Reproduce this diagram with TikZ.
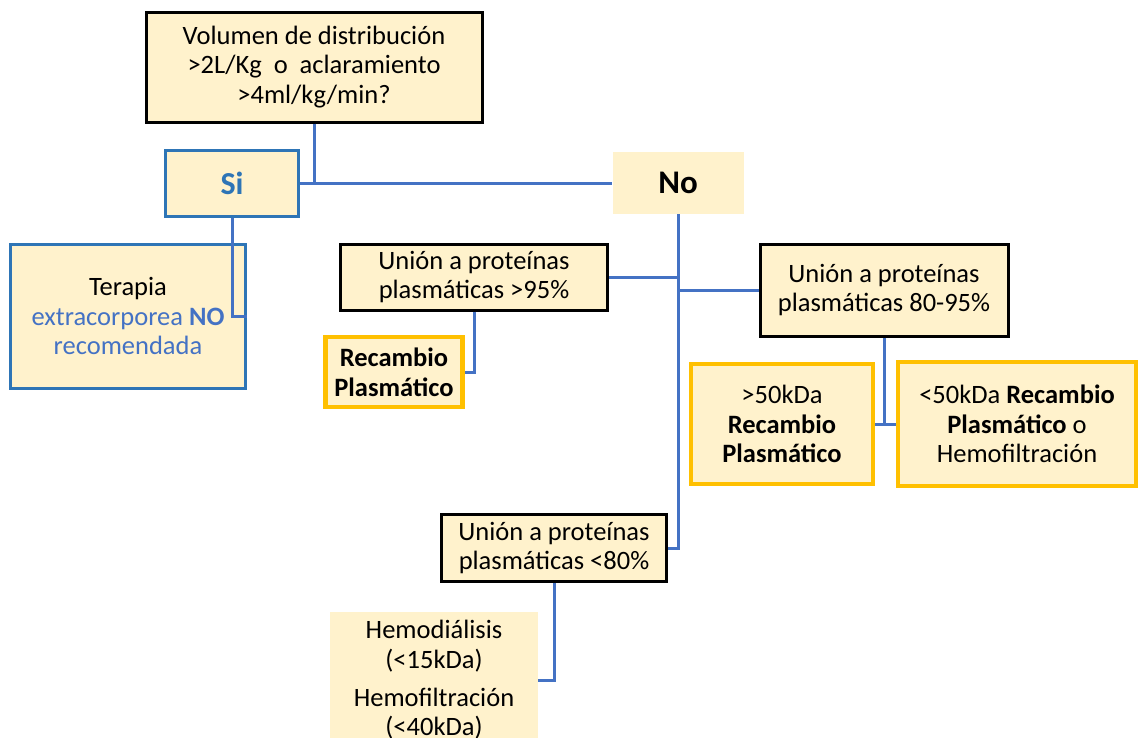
\documentclass[tikz,border=0pt]{standalone}
\usepackage{fontspec}
\setmainfont{Carlito}
\definecolor{cream}{HTML}{FFF2CC}
\definecolor{lineblue}{HTML}{4472C4}
\definecolor{boxblue}{HTML}{2E75B6}
\definecolor{txtblue}{HTML}{4472C4}
\definecolor{gold}{HTML}{FFC000}
\begin{document}
\begin{tikzpicture}[x=1pt,y=-1pt,
  box/.style={fill=cream, inner sep=0pt, align=center, font=\fontsize{26.5}{29.7}\selectfont},
  blk/.style={box, draw=black, line width=3pt},
  blu/.style={box, draw=boxblue, line width=3pt},
  org/.style={box, draw=gold, line width=4.5pt},
  conn/.style={draw=lineblue, line width=3pt}]
\clip (0,0) rectangle (1138,737);
\fill[white] (0,0) rectangle (1138,737);

\node[blk, minimum width=336pt, minimum height=110pt] (top) at (314,67)
  {Volumen de distribución\\>2L/Kg~ o~ aclaramiento\\>4ml/kg/min?};
\node[blu, minimum width=133pt, minimum height=66pt, font=\fontsize{32}{34}\selectfont\bfseries, text=boxblue] (si) at (232,183) {Si};
\node[box, minimum width=131pt, minimum height=62pt, font=\fontsize{33}{34}\selectfont\bfseries] (no) at (678,183) {No};
\node[blu, minimum width=235pt, minimum height=144pt] (tera) at (128,316)
  {Terapia\\\textcolor{txtblue}{extracorporea \textbf{NO}}\\\textcolor{txtblue}{recomendada}};
\node[blk, minimum width=267pt, minimum height=66pt] (u95) at (474,277)
  {Unión a proteínas\\plasmáticas >95\%};
\node[org, minimum width=137pt, minimum height=70pt, font=\fontsize{26.5}{29.7}\selectfont\bfseries] (rp1) at (394,372)
  {Recambio\\Plasmático};
\node[blk, minimum width=248pt, minimum height=92pt] (u8095) at (884,290)
  {Unión a proteínas\\plasmáticas 80-95\%};
\node[org, minimum width=182pt, minimum height=120pt] (k50a) at (782,424)
  {>50kDa\\\textbf{Recambio}\\\textbf{Plasmático}};
\node[org, minimum width=238pt, minimum height=124pt] (k50b) at (1017,424)
  {<50kDa \textbf{Recambio}\\\textbf{Plasmático} o\\Hemofiltración};
\node[blk, minimum width=225pt, minimum height=67pt] (u80) at (554,548)
  {Unión a proteínas\\plasmáticas <80\%};
\node[box, minimum width=208pt, minimum height=136pt] (hemo) at (434,680)
  {Hemodiálisis\\(<15kDa)\\[8pt]Hemofiltración\\(<40kDa)};

\draw[conn] (top.south) -- (top.south |- si.east);
\draw[conn] (si.east) -- (no.west);
\draw[conn] (si.south) |- (tera.east);
\draw[conn] (no.south) |- (u80.east);
\draw[conn] (u95.east) -- (u95.east -| no.south);
\draw[conn] (no.south |- u8095.west) -- (u8095.west);
\draw[conn] (u95.south) |- (rp1.east);
\draw[conn] (u8095.south) |- (k50b.west);
\draw[conn] (k50a.east) -- (k50a.east -| u8095.south);
\draw[conn] (u80.south) |- (hemo.east);
\end{tikzpicture}
\end{document}
